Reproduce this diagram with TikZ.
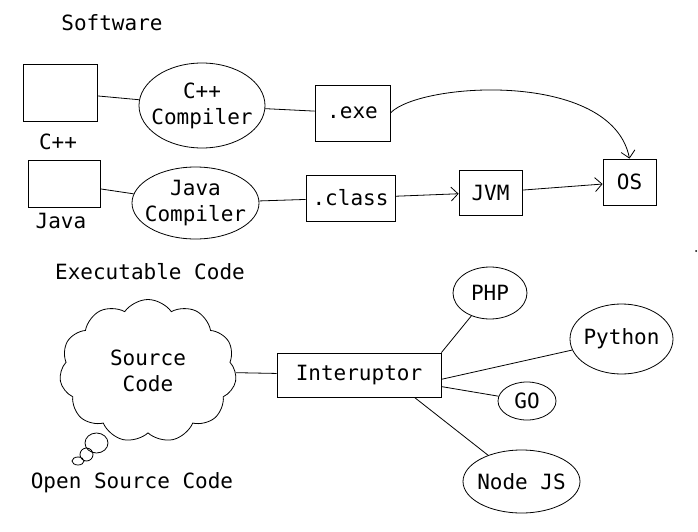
\documentclass[tikz,border=0pt]{standalone}
\usepackage{fontspec}
\newfontfamily\monofont{DejaVu Sans Mono}
\usepackage{tikz}
\usetikzlibrary{shapes.geometric,shapes.symbols,arrows.meta}
\tikzset{
  txt/.style={font=\monofont\fontsize{21}{26}\selectfont, align=center, inner sep=0pt},
  box/.style={txt, draw, line width=0.8pt},
  oval/.style={txt, draw, ellipse, inner xsep=-7pt, line width=0.8pt},
  link/.style={line width=0.8pt},
  barb/.style={line width=0.8pt, -{Straight Barb[length=7pt,width=14pt]}}
}
\begin{document}
\begin{tikzpicture}[x=1pt, y=-1pt]
      \useasboundingbox (0, 0) rectangle (698, 532);
      % top: compiled languages
      \node[txt] (sw) at (112, 23) {Software};
      \node[box, minimum width=74pt, minimum height=57pt] (cpp) at (60, 92.5) {};
      \node[txt] (cpplbl) at (58, 142) {C++};
      \node[oval, minimum width=126pt, minimum height=85pt] (cppc) at (202, 105.5) {C++\\Compiler};
      \node[box, minimum width=75pt, minimum height=56pt] (exe) at (352.5, 113) {.exe};
      \node[box, minimum width=72pt, minimum height=47pt] (java) at (64, 183.5) {};
      \node[txt] (javalbl) at (61, 221) {Java};
      \node[oval, minimum width=127pt, minimum height=72pt] (javac) at (195.5, 203) {Java\\Compiler};
      \node[box, minimum width=89pt, minimum height=46pt] (cls) at (350.5, 198) {.class};
      \node[box, minimum width=63pt, minimum height=45pt] (jvm) at (490.5, 192.5) {JVM};
      \node[box, minimum width=53pt, minimum height=46pt] (os) at (629.5, 182) {OS};
      \node[txt] (exec) at (150, 272) {Executable Code};
      \draw[link] (cpp) -- (cppc)
                  (cppc) -- (exe)
                  (java) -- (javac)
                  (javac) -- (cls);
      \draw[barb] (exe.east) .. controls (420, 82) and (612, 70) .. (os.north);
      \draw[barb] (cls) -- (jvm);
      \draw[barb] (jvm) -- (os);
      \fill (696, 251) circle (1pt);
      % bottom: interpreted languages
      \node[txt, draw, cloud, cloud puffs=11, cloud puff arc=110, line width=0.8pt,
            minimum width=177pt, minimum height=143pt] (src) at (148, 371) {Source\\Code};
      \draw[link] (96.5, 443) ellipse (11.5 and 10)
                  (86.5, 454.5) ellipse (6.5 and 6.5)
                  (78, 461) ellipse (6 and 4);
      \node[txt] (oss) at (132, 483) {Open Source Code};
      \node[box, minimum width=164pt, minimum height=44pt] (ip) at (359, 375) {Interuptor};
      \node[oval, minimum width=74pt, minimum height=52pt] (php) at (490, 293) {PHP};
      \node[oval, minimum width=103pt, minimum height=70pt] (py) at (621.5, 339) {Python};
      \node[oval, minimum width=58pt, minimum height=38pt] (go) at (527, 401) {GO};
      \node[oval, minimum width=117pt, minimum height=63pt] (njs) at (521.5, 481.5) {Node JS};
      \draw[link] (src) -- (ip)
                  (ip.north east) -- (php)
                  (ip.-3) -- (py)
                  (ip.-8) -- (go)
                  (ip.-22.5) -- (njs);
\end{tikzpicture}
\end{document}
